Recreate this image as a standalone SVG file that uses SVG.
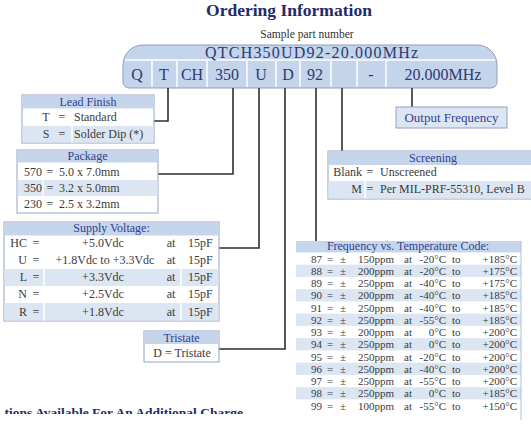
<svg xmlns="http://www.w3.org/2000/svg" width="531" height="426" viewBox="0 0 531 426">
<style>
.hd{fill:#c5d5eb}
.st{fill:#dce6f3}
.bx{fill:#fff;stroke:#94a3c0;stroke-width:1}
.ht{font-family:"Liberation Serif",serif;font-size:12px;fill:#33418f}
.tx{font-family:"Liberation Serif",serif;font-size:12px;fill:#3a3a3a}
.ft{font-family:"Liberation Serif",serif;font-size:11px;fill:#3a3a3a}
.pt{font-family:"Liberation Serif",serif;font-size:16px;fill:#2c3b70}
.c{text-anchor:middle}
.e{text-anchor:end}
.dv{stroke:#fff;stroke-width:1.5}
.cn{fill:none;stroke:#2e2e2e;stroke-width:1.6}
</style>
<defs>
<clipPath id="clipb"><rect x="0" y="0" width="531" height="414"/></clipPath>
</defs>
<rect width="531" height="426" fill="#fff"/>

<g id="title">
<text x="289" y="16" text-anchor="middle" font-family="Liberation Serif,serif" font-size="17.5" font-weight="bold" fill="#1f2b6a">Ordering Information</text>
<text x="307" y="38" text-anchor="middle" font-family="Liberation Serif,serif" font-size="11.5" fill="#333">Sample part number</text>
</g>

<g id="part-number">
<path d="M143 45 H477 A20 20 0 0 1 497 65 V82 A6 6 0 0 1 491 88 H129 A6 6 0 0 1 123 82 V65 A20 20 0 0 1 143 45 Z" fill="#c3d4eb" stroke="#8d9ec0" stroke-width="1"/>
<line class="dv" x1="125" y1="60" x2="495" y2="60"/>
<g class="dv">
<line x1="152" y1="61" x2="152" y2="87"/>
<line x1="177" y1="61" x2="177" y2="87"/>
<line x1="207" y1="61" x2="207" y2="87"/>
<line x1="247" y1="61" x2="247" y2="87"/>
<line x1="276" y1="61" x2="276" y2="87"/>
<line x1="300" y1="61" x2="300" y2="87"/>
<line x1="331" y1="61" x2="331" y2="87"/>
<line x1="357" y1="61" x2="357" y2="87"/>
<line x1="386" y1="61" x2="386" y2="87"/>
</g>
<text class="pt" x="205" y="58" textLength="213" lengthAdjust="spacing">QTCH350UD92-20.000MHz</text>
<g class="pt c">
<text x="137" y="80">Q</text>
<text x="164" y="80">T</text>
<text x="192" y="80">CH</text>
<text x="227" y="80">350</text>
<text x="261" y="80">U</text>
<text x="288" y="80">D</text>
<text x="315" y="80">92</text>
<text x="371" y="80">-</text>
<text x="443" y="80">20.000MHz</text>
</g>
</g>

<g id="connectors">
<path class="cn" d="M168 88 V121 H154"/>
<path class="cn" d="M233 88 V174 H158"/>
<path class="cn" d="M259 88 V248 H219"/>
<path class="cn" d="M285 88 V349 H219"/>
<path class="cn" d="M316 88 V241"/>
<path class="cn" d="M342 88 V151"/>
<path class="cn" d="M412 88 V107"/>
</g>

<g id="lead-finish">
<rect class="bx" x="22" y="95" width="132" height="48"/>
<rect class="hd" x="22.5" y="95.5" width="131" height="13"/>
<rect class="st" x="22.5" y="126" width="131" height="16.5"/>
<line class="dv" x1="72" y1="126" x2="72" y2="142.5"/>
<text class="ht c" x="88" y="105.5">Lead Finish</text>
<text class="tx c" x="46" y="121">T</text><text class="tx c" x="62" y="121">=</text><text class="tx" x="74" y="121">Standard</text>
<text class="tx c" x="46" y="138">S</text><text class="tx c" x="62" y="138">=</text><text class="tx" x="74" y="138">Solder Dip (*)</text>
</g>

<g id="package">
<rect class="bx" x="17" y="150" width="141" height="63"/>
<rect class="hd" x="17.5" y="150.5" width="140" height="12"/>
<rect class="st" x="17.5" y="180" width="140" height="16"/>
<line class="dv" x1="43" y1="180" x2="43" y2="196"/>
<text class="ht c" x="87.5" y="160">Package</text>
<text class="tx" x="24" y="176">570</text><text class="tx c" x="50" y="176">=</text><text class="tx" x="59" y="176">5.0 x 7.0mm</text>
<text class="tx" x="24" y="192">350</text><text class="tx c" x="50" y="192">=</text><text class="tx" x="59" y="192">3.2 x 5.0mm</text>
<text class="tx" x="24" y="208">230</text><text class="tx c" x="50" y="208">=</text><text class="tx" x="59" y="208">2.5 x 3.2mm</text>
</g>

<g id="supply-voltage">
<rect class="bx" x="4" y="222" width="215" height="99"/>
<rect class="hd" x="4.5" y="222.5" width="214" height="13"/>
<rect class="st" x="4.5" y="269" width="214" height="17"/>
<rect class="st" x="4.5" y="303" width="214" height="17.5"/>
<g class="dv">
<line x1="44" y1="269" x2="44" y2="286"/><line x1="181" y1="269" x2="181" y2="286"/>
<line x1="44" y1="303" x2="44" y2="320.5"/><line x1="181" y1="303" x2="181" y2="320.5"/>
</g>
<text class="ht c" x="111.5" y="232">Supply Voltage:</text>
<g class="tx">
<text class="e" x="27" y="247">HC</text><text class="c" x="36" y="247">=</text><text class="c" x="103" y="247">+5.0Vdc</text><text class="c" x="171" y="247">at</text><text x="188" y="247">15pF</text>
<text class="e" x="27" y="264">U</text><text class="c" x="36" y="264">=</text><text class="c" x="105" y="264">+1.8Vdc to +3.3Vdc</text><text class="c" x="171" y="264">at</text><text x="188" y="264">15pF</text>
<text class="e" x="27" y="281">L</text><text class="c" x="36" y="281">=</text><text class="c" x="103" y="281">+3.3Vdc</text><text class="c" x="171" y="281">at</text><text x="188" y="281">15pF</text>
<text class="e" x="27" y="298">N</text><text class="c" x="36" y="298">=</text><text class="c" x="103" y="298">+2.5Vdc</text><text class="c" x="171" y="298">at</text><text x="188" y="298">15pF</text>
<text class="e" x="27" y="316">R</text><text class="c" x="36" y="316">=</text><text class="c" x="103" y="316">+1.8Vdc</text><text class="c" x="171" y="316">at</text><text x="188" y="316">15pF</text>
</g>
</g>

<g id="tristate">
<rect class="bx" x="144" y="331" width="75" height="31"/>
<rect class="hd" x="144.5" y="331.5" width="74" height="12.5"/>
<text class="ht c" x="181.5" y="341.5">Tristate</text>
<text class="tx c" x="182" y="356.5">D = Tristate</text>
</g>

<g id="output-frequency">
<rect x="396" y="107" width="111" height="21" fill="#dce6f3" stroke="#94a3c0" stroke-width="1"/>
<text x="451.5" y="122" text-anchor="middle" font-family="Liberation Serif,serif" font-size="13" fill="#33418f">Output Frequency</text>
</g>

<g id="screening">
<rect class="bx" x="328" y="151" width="215" height="48"/>
<rect class="hd" x="328.5" y="151.5" width="214" height="13.5"/>
<rect class="st" x="328.5" y="181" width="214" height="17.5"/>
<line class="dv" x1="365" y1="181" x2="365" y2="198.5"/>
<text class="ht c" x="433" y="162">Screening</text>
<text class="tx e" x="362" y="176">Blank</text><text class="tx c" x="370" y="176">=</text><text class="tx" x="380" y="176">Unscreened</text>
<text class="tx e" x="362" y="193">M</text><text class="tx c" x="370" y="193">=</text><text class="tx" x="380" y="193">Per MIL-PRF-55310, Level B</text>
</g>

<g id="frequency-temperature">
<rect class="hd" x="296" y="241" width="225" height="11.4"/>
<g class="st">
<rect x="296" y="264.65" width="225" height="12.25"/>
<rect x="296" y="289.15" width="225" height="12.25"/>
<rect x="296" y="313.65" width="225" height="12.25"/>
<rect x="296" y="338.15" width="225" height="12.25"/>
<rect x="296" y="362.65" width="225" height="12.25"/>
<rect x="296" y="387.15" width="225" height="12.25"/>
</g>
<line x1="521" y1="241" x2="521" y2="420" stroke="#b3bfd4" stroke-width="1"/>
<text class="ht c" x="408" y="250" font-size="11.5">Frequency vs. Temperature Code:</text>
<g class="ft">
<text y="262.5"><tspan x="322" text-anchor="end">87</tspan><tspan x="330" text-anchor="middle">=</tspan><tspan x="343" text-anchor="middle">±</tspan><tspan x="358">150ppm</tspan><tspan x="404">at</tspan><tspan x="446" text-anchor="end">-20°C</tspan><tspan x="452">to</tspan><tspan x="517" text-anchor="end">+185°C</tspan></text>
<text y="274.75"><tspan x="322" text-anchor="end">88</tspan><tspan x="330" text-anchor="middle">=</tspan><tspan x="343" text-anchor="middle">±</tspan><tspan x="358">200ppm</tspan><tspan x="404">at</tspan><tspan x="446" text-anchor="end">-20°C</tspan><tspan x="452">to</tspan><tspan x="517" text-anchor="end">+175°C</tspan></text>
<text y="287"><tspan x="322" text-anchor="end">89</tspan><tspan x="330" text-anchor="middle">=</tspan><tspan x="343" text-anchor="middle">±</tspan><tspan x="358">250ppm</tspan><tspan x="404">at</tspan><tspan x="446" text-anchor="end">-40°C</tspan><tspan x="452">to</tspan><tspan x="517" text-anchor="end">+175°C</tspan></text>
<text y="299.25"><tspan x="322" text-anchor="end">90</tspan><tspan x="330" text-anchor="middle">=</tspan><tspan x="343" text-anchor="middle">±</tspan><tspan x="358">200ppm</tspan><tspan x="404">at</tspan><tspan x="446" text-anchor="end">-40°C</tspan><tspan x="452">to</tspan><tspan x="517" text-anchor="end">+185°C</tspan></text>
<text y="311.5"><tspan x="322" text-anchor="end">91</tspan><tspan x="330" text-anchor="middle">=</tspan><tspan x="343" text-anchor="middle">±</tspan><tspan x="358">250ppm</tspan><tspan x="404">at</tspan><tspan x="446" text-anchor="end">-40°C</tspan><tspan x="452">to</tspan><tspan x="517" text-anchor="end">+185°C</tspan></text>
<text y="323.75"><tspan x="322" text-anchor="end">92</tspan><tspan x="330" text-anchor="middle">=</tspan><tspan x="343" text-anchor="middle">±</tspan><tspan x="358">250ppm</tspan><tspan x="404">at</tspan><tspan x="446" text-anchor="end">-55°C</tspan><tspan x="452">to</tspan><tspan x="517" text-anchor="end">+185°C</tspan></text>
<text y="336"><tspan x="322" text-anchor="end">93</tspan><tspan x="330" text-anchor="middle">=</tspan><tspan x="343" text-anchor="middle">±</tspan><tspan x="358">200ppm</tspan><tspan x="404">at</tspan><tspan x="446" text-anchor="end">0°C</tspan><tspan x="452">to</tspan><tspan x="517" text-anchor="end">+200°C</tspan></text>
<text y="348.25"><tspan x="322" text-anchor="end">94</tspan><tspan x="330" text-anchor="middle">=</tspan><tspan x="343" text-anchor="middle">±</tspan><tspan x="358">250ppm</tspan><tspan x="404">at</tspan><tspan x="446" text-anchor="end">0°C</tspan><tspan x="452">to</tspan><tspan x="517" text-anchor="end">+200°C</tspan></text>
<text y="360.5"><tspan x="322" text-anchor="end">95</tspan><tspan x="330" text-anchor="middle">=</tspan><tspan x="343" text-anchor="middle">±</tspan><tspan x="358">250ppm</tspan><tspan x="404">at</tspan><tspan x="446" text-anchor="end">-20°C</tspan><tspan x="452">to</tspan><tspan x="517" text-anchor="end">+200°C</tspan></text>
<text y="372.75"><tspan x="322" text-anchor="end">96</tspan><tspan x="330" text-anchor="middle">=</tspan><tspan x="343" text-anchor="middle">±</tspan><tspan x="358">250ppm</tspan><tspan x="404">at</tspan><tspan x="446" text-anchor="end">-40°C</tspan><tspan x="452">to</tspan><tspan x="517" text-anchor="end">+200°C</tspan></text>
<text y="385"><tspan x="322" text-anchor="end">97</tspan><tspan x="330" text-anchor="middle">=</tspan><tspan x="343" text-anchor="middle">±</tspan><tspan x="358">250ppm</tspan><tspan x="404">at</tspan><tspan x="446" text-anchor="end">-55°C</tspan><tspan x="452">to</tspan><tspan x="517" text-anchor="end">+200°C</tspan></text>
<text y="397.25"><tspan x="322" text-anchor="end">98</tspan><tspan x="330" text-anchor="middle">=</tspan><tspan x="343" text-anchor="middle">±</tspan><tspan x="358">250ppm</tspan><tspan x="404">at</tspan><tspan x="446" text-anchor="end">0°C</tspan><tspan x="452">to</tspan><tspan x="517" text-anchor="end">+185°C</tspan></text>
<text y="409.5"><tspan x="322" text-anchor="end">99</tspan><tspan x="330" text-anchor="middle">=</tspan><tspan x="343" text-anchor="middle">±</tspan><tspan x="358">100ppm</tspan><tspan x="404">at</tspan><tspan x="446" text-anchor="end">-55°C</tspan><tspan x="452">to</tspan><tspan x="517" text-anchor="end">+150°C</tspan></text>
</g>
</g>

<g id="footer" clip-path="url(#clipb)">
<text x="243" y="416.5" text-anchor="end" font-family="Liberation Serif,serif" font-size="13.5" font-weight="bold" fill="#1f2b6a">tions Available For An Additional Charge</text>
</g>
</svg>
